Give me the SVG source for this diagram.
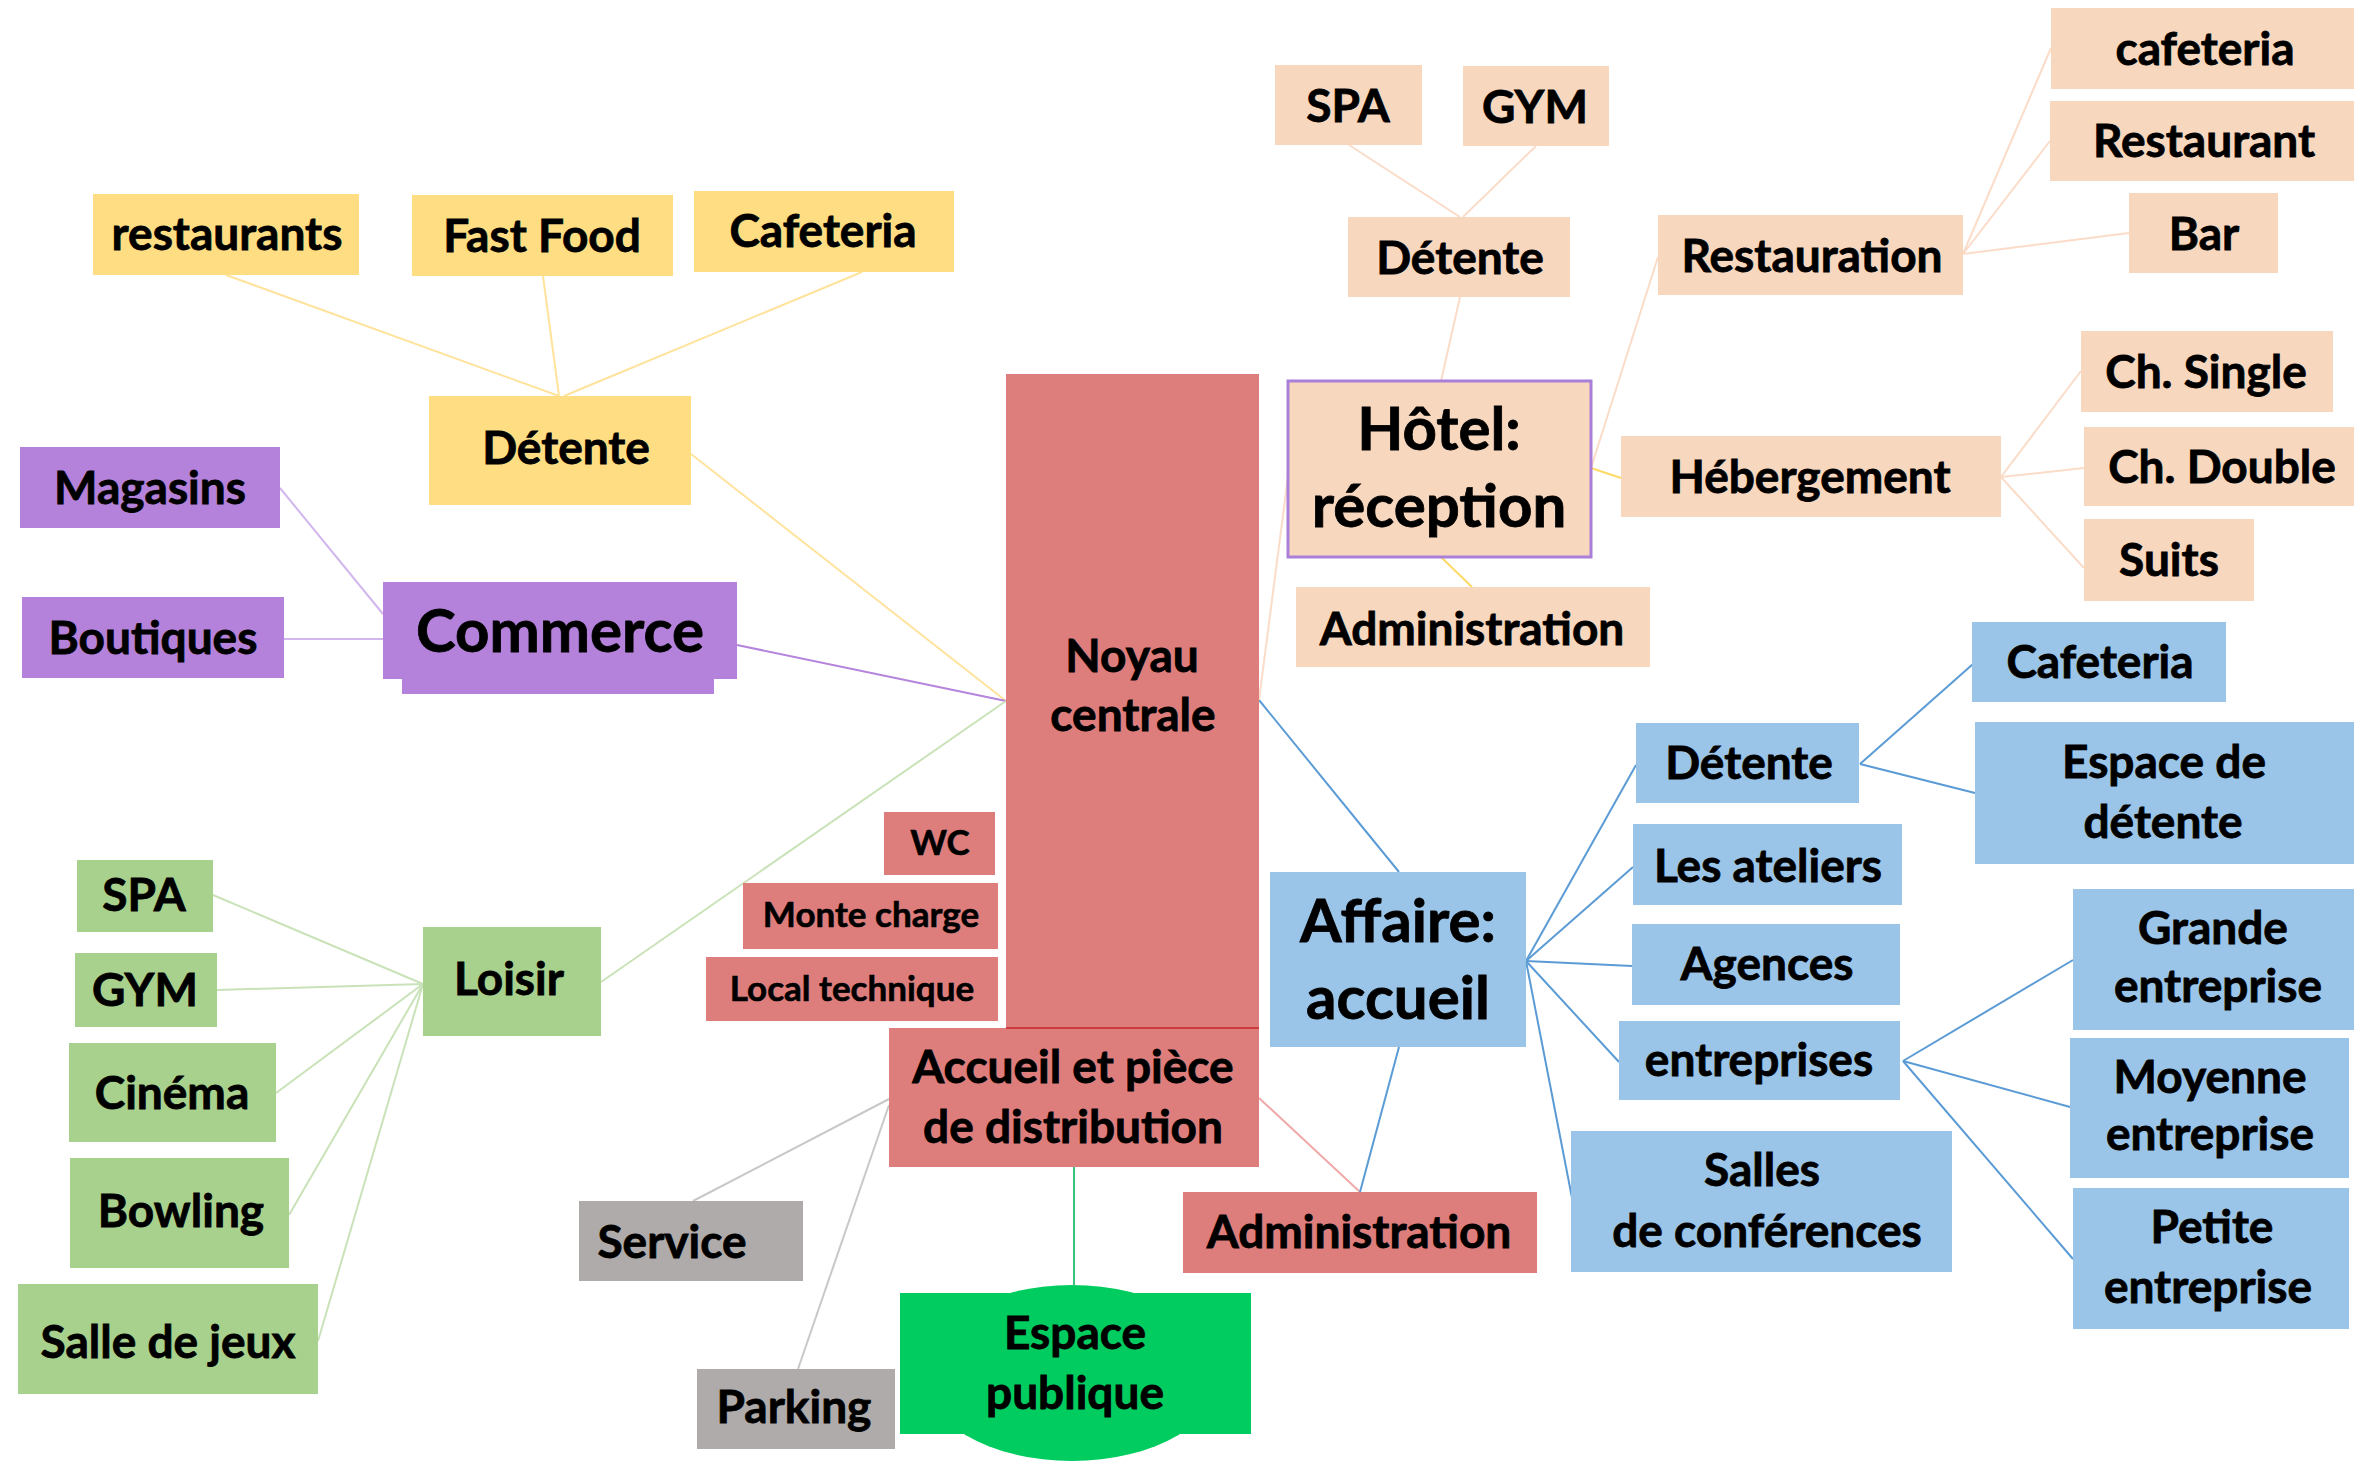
<svg xmlns="http://www.w3.org/2000/svg" width="2354" height="1461" viewBox="0 0 2354 1461">
<style>
text{font-family:Lato,"Liberation Sans",sans-serif;font-weight:bold;font-size:46px;text-anchor:middle;fill:#000;stroke:#000;stroke-width:0.8px}
.big{font-size:60px}
.sm{font-size:35px;stroke-width:0.6px}
.nb{font-size:46px}
.y{fill:#FFDE83}.p{fill:#B482DA}.r{fill:#DE7E7C}.g{fill:#AFABAB}.lg{fill:#A9D18E}.b{fill:#9BC5E8}.pe{fill:#F8D7BF}.eg{fill:#00CC5F}
#connectors line{stroke-width:2;fill:none}
.cy{stroke:#FFE39C}.cp{stroke:#D2B6EE}.cpd{stroke:#B584DC}.cg{stroke:#C9E2B8}.cgr{stroke:#C8C8C8}.ceg{stroke:#3CC47C}.cr{stroke:#F0A8A8}.cb{stroke:#5B9BD5}.cpe{stroke:#FADCC8}.cyd{stroke:#FFD966}
</style>
<rect width="2354" height="1461" fill="#fff"/>
<g id="connectors">
<line class="cy" x1="226" y1="275" x2="559" y2="396"/>
<line class="cy" x1="543" y1="276" x2="559" y2="396"/>
<line class="cy" x1="862" y1="272" x2="564" y2="396"/>
<line class="cy" x1="691" y1="454" x2="1006" y2="701"/>
<line class="cp" x1="280" y1="488" x2="383" y2="614"/>
<line class="cp" x1="284" y1="639" x2="383" y2="639"/>
<line class="cpd" x1="737" y1="645" x2="1006" y2="701"/>
<line class="cg" x1="213" y1="895" x2="423" y2="984"/>
<line class="cg" x1="217" y1="990" x2="423" y2="984"/>
<line class="cg" x1="276" y1="1093" x2="423" y2="984"/>
<line class="cg" x1="289" y1="1215" x2="423" y2="984"/>
<line class="cg" x1="318" y1="1341" x2="423" y2="984"/>
<line class="cg" x1="601" y1="982" x2="1006" y2="701"/>
<line class="cgr" x1="889" y1="1099" x2="693" y2="1201"/>
<line class="cgr" x1="889" y1="1105" x2="798" y2="1369"/>
<line class="ceg" x1="1074" y1="1167" x2="1074" y2="1285"/>
<line class="cr" x1="1259" y1="1098" x2="1360" y2="1192"/>
<line class="cb" x1="1399" y1="1047" x2="1360" y2="1192"/>
<line class="cb" x1="1259" y1="700" x2="1399" y2="872"/>
<line class="cb" x1="1526" y1="961" x2="1636" y2="765"/>
<line class="cb" x1="1526" y1="961" x2="1633" y2="867"/>
<line class="cb" x1="1526" y1="961" x2="1632" y2="966"/>
<line class="cb" x1="1526" y1="961" x2="1619" y2="1062"/>
<line class="cb" x1="1526" y1="961" x2="1573" y2="1203"/>
<line class="cb" x1="1860" y1="764" x2="1973" y2="664"/>
<line class="cb" x1="1860" y1="764" x2="1975" y2="793"/>
<line class="cb" x1="1903" y1="1061" x2="2073" y2="960"/>
<line class="cb" x1="1903" y1="1061" x2="2070" y2="1107"/>
<line class="cb" x1="1903" y1="1061" x2="2073" y2="1259"/>
<line class="cpe" x1="1349" y1="145" x2="1460" y2="217"/>
<line class="cpe" x1="1536" y1="146" x2="1463" y2="217"/>
<line class="cpe" x1="1460" y1="297" x2="1441" y2="381"/>
<line class="cpe" x1="1591" y1="468" x2="1658" y2="257"/>
<line class="cyd" x1="1591" y1="468" x2="1621" y2="478"/>
<line class="cpe" x1="1963" y1="254" x2="2051" y2="48"/>
<line class="cpe" x1="1963" y1="254" x2="2050" y2="141"/>
<line class="cpe" x1="1963" y1="254" x2="2129" y2="233"/>
<line class="cpe" x1="2001" y1="477" x2="2081" y2="371"/>
<line class="cpe" x1="2001" y1="477" x2="2084" y2="468"/>
<line class="cpe" x1="2001" y1="477" x2="2084" y2="568"/>
<line class="cyd" x1="1441" y1="557" x2="1472" y2="587"/>
<line class="cpe" x1="1288" y1="477" x2="1259" y2="700"/>
</g>
<g id="restaurants"><rect class="y" x="93" y="194" width="266" height="81"/><text x="227" y="250">restaurants</text></g>
<g id="fastfood"><rect class="y" x="412" y="195" width="261" height="81"/><text x="542" y="252">Fast Food</text></g>
<g id="cafeteria-y"><rect class="y" x="694" y="191" width="260" height="81"/><text x="823" y="247">Cafeteria</text></g>
<g id="detente-y"><rect class="y" x="429" y="396" width="262" height="109"/><text x="566" y="464">Détente</text></g>
<g id="magasins"><rect class="p" x="20" y="447" width="260" height="81"/><text x="150" y="504">Magasins</text></g>
<g id="boutiques"><rect class="p" x="22" y="597" width="262" height="81"/><text x="153" y="654">Boutiques</text></g>
<g id="commerce"><rect class="p" x="402" y="600" width="312" height="94"/><rect class="p" x="383" y="582" width="354" height="97"/><text class="big" x="560" y="652">Commerce</text></g>
<g id="noyau"><rect class="r" x="1006" y="374" width="253" height="654"/><text class="nb" x="1132" y="672">Noyau</text><text class="nb" x="1133" y="731">centrale</text></g>
<g id="wc"><rect class="r" x="884" y="812" width="111" height="63"/><text class="sm" x="940" y="855">WC</text></g>
<g id="monte"><rect class="r" x="743" y="883" width="255" height="66"/><text class="sm" x="871" y="927">Monte charge</text></g>
<g id="local"><rect class="r" x="706" y="957" width="292" height="64"/><text class="sm" x="852" y="1001">Local technique</text></g>
<g id="accueil"><rect class="r" x="889" y="1028" width="370" height="139"/><line x1="1006" y1="1028" x2="1259" y2="1028" stroke="#C8262A" stroke-width="1.5"/><text x="1073" y="1083">Accueil et pièce</text><text x="1073" y="1143">de distribution</text></g>
<g id="admin-r"><rect class="r" x="1183" y="1192" width="354" height="81"/><text x="1359" y="1248">Administration</text></g>
<g id="service"><rect class="g" x="579" y="1201" width="224" height="80"/><text x="672" y="1258">Service</text></g>
<g id="parking"><rect class="g" x="697" y="1369" width="198" height="80"/><text x="794" y="1423">Parking</text></g>
<g id="espace"><ellipse class="eg" cx="1072" cy="1373" rx="150" ry="88"/><rect class="eg" x="900" y="1293" width="351" height="141"/><text x="1075" y="1349">Espace</text><text x="1075" y="1409">publique</text></g>
<g id="spa-g"><rect class="lg" x="77" y="860" width="136" height="72"/><text x="144" y="911">SPA</text></g>
<g id="gym-g"><rect class="lg" x="75" y="953" width="142" height="74"/><text x="145" y="1006">GYM</text></g>
<g id="cinema"><rect class="lg" x="69" y="1043" width="207" height="99"/><text x="172" y="1109">Cinéma</text></g>
<g id="bowling"><rect class="lg" x="70" y="1158" width="219" height="110"/><text x="181" y="1227">Bowling</text></g>
<g id="salle"><rect class="lg" x="18" y="1284" width="300" height="110"/><text x="168" y="1358">Salle de jeux</text></g>
<g id="loisir"><rect class="lg" x="423" y="927" width="178" height="109"/><text x="509" y="995">Loisir</text></g>
<g id="affaire"><rect class="b" x="1270" y="872" width="256" height="175"/><text class="big" x="1398" y="942">Affaire:</text><text class="big" x="1398" y="1019">accueil</text></g>
<g id="detente-b"><rect class="b" x="1636" y="723" width="223" height="80"/><text x="1749" y="779">Détente</text></g>
<g id="ateliers"><rect class="b" x="1633" y="824" width="269" height="81"/><text x="1768" y="882">Les ateliers</text></g>
<g id="agences"><rect class="b" x="1632" y="924" width="268" height="81"/><text x="1767" y="980">Agences</text></g>
<g id="entreprises"><rect class="b" x="1619" y="1021" width="281" height="79"/><text x="1759" y="1076">entreprises</text></g>
<g id="salles"><rect class="b" x="1571" y="1131" width="381" height="141"/><text x="1762" y="1186">Salles</text><text x="1767" y="1247">de conférences</text></g>
<g id="cafeteria-b"><rect class="b" x="1972" y="622" width="254" height="80"/><text x="2100" y="678">Cafeteria</text></g>
<g id="espace-detente"><rect class="b" x="1975" y="722" width="379" height="142"/><text x="2164" y="778">Espace de</text><text x="2163" y="838">détente</text></g>
<g id="grande"><rect class="b" x="2073" y="889" width="281" height="141"/><text x="2213" y="944">Grande</text><text x="2218" y="1002">entreprise</text></g>
<g id="moyenne"><rect class="b" x="2070" y="1038" width="279" height="140"/><text x="2210" y="1093">Moyenne</text><text x="2210" y="1150">entreprise</text></g>
<g id="petite"><rect class="b" x="2073" y="1188" width="276" height="141"/><text x="2212" y="1243">Petite</text><text x="2208" y="1303">entreprise</text></g>
<g id="spa-h"><rect class="pe" x="1275" y="65" width="147" height="80"/><text x="1348" y="122">SPA</text></g>
<g id="gym-h"><rect class="pe" x="1463" y="66" width="146" height="80"/><text x="1535" y="123">GYM</text></g>
<g id="detente-h"><rect class="pe" x="1348" y="217" width="222" height="80"/><text x="1460" y="274">Détente</text></g>
<g id="restauration"><rect class="pe" x="1658" y="215" width="305" height="80"/><text x="1812" y="272">Restauration</text></g>
<g id="cafeteria-h"><rect class="pe" x="2051" y="8" width="303" height="81"/><text x="2205" y="65">cafeteria</text></g>
<g id="restaurant"><rect class="pe" x="2050" y="101" width="304" height="80"/><text x="2204" y="157">Restaurant</text></g>
<g id="bar"><rect class="pe" x="2129" y="193" width="149" height="80"/><text x="2204" y="250">Bar</text></g>
<g id="hotel"><rect class="pe" x="1288" y="381" width="303" height="176" stroke="#A97FD9" stroke-width="3"/><text class="big" x="1439" y="450">Hôtel:</text><text class="big" x="1439" y="527">réception</text></g>
<g id="hebergement"><rect class="pe" x="1621" y="436" width="380" height="81"/><text x="1810" y="493">Hébergement</text></g>
<g id="single"><rect class="pe" x="2081" y="331" width="252" height="81"/><text x="2206" y="388">Ch. Single</text></g>
<g id="double"><rect class="pe" x="2084" y="427" width="270" height="79"/><text x="2222" y="483">Ch. Double</text></g>
<g id="suits"><rect class="pe" x="2084" y="519" width="170" height="82"/><text x="2169" y="576">Suits</text></g>
<g id="admin-h"><rect class="pe" x="1296" y="587" width="354" height="80"/><text x="1472" y="645">Administration</text></g>
</svg>
